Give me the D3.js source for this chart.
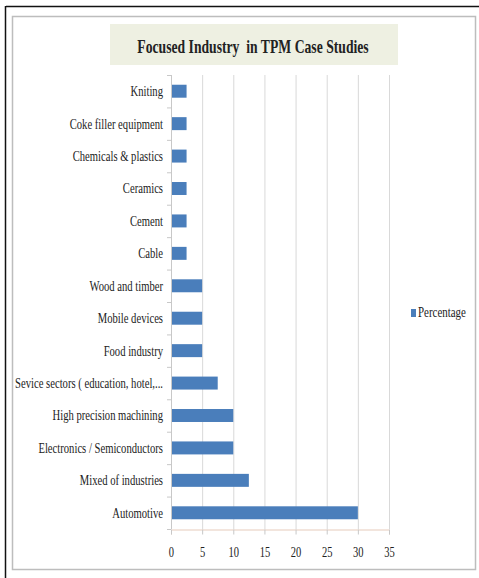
<!DOCTYPE html>
<html>
<head>
<meta charset="utf-8">
<script src="https://cdn.jsdelivr.net/npm/d3@7"></script>
<style>
  body { margin: 0; background: #fff; }
  text { font-family: "Liberation Serif", "Times New Roman", serif; fill: #222; }
</style>
</head>
<body>
<div id="chart"></div>
<script>
// data (top to bottom)
const categories = ["Kniting", "Coke filler equipment", "Chemicals & plastics", "Ceramics", "Cement", "Cable",
  "Wood and timber", "Mobile devices", "Food industry", "Sevice sectors ( education, hotel,...",
  "High precision machining", "Electronics / Semiconductors", "Mixed of industries", "Automotive"];
const values = [2.5, 2.5, 2.5, 2.5, 2.5, 2.5, 5, 5, 5, 7.5, 10, 10, 12.5, 30];
const xTicks = [0, 5, 10, 15, 20, 25, 30, 35];
const seriesName = "Percentage";
const title = "Focused Industry  in TPM Case Studies";

const W = 479, H = 578;
const plot = { left: 171, right: 389, top: 75, bottom: 529 };

const svg = d3.select("#chart").append("svg")
  .attr("width", W)
  .attr("height", H);

// frame: black edge top/left, grey inner border
svg.append("line").attr("x1", 6).attr("x2", W).attr("y1", 6.5).attr("y2", 6.5).attr("stroke", "#111").attr("stroke-width", 1.5);
svg.append("line").attr("x1", 5.5).attr("x2", 5.5).attr("y1", 6).attr("y2", H).attr("stroke", "#111").attr("stroke-width", 1.5);
svg.append("rect")
  .attr("x", 12.5).attr("y", 16.5)
  .attr("width", 463).attr("height", 553)
  .attr("fill", "#fff")
  .attr("stroke", "#bdbdbd")
  .attr("stroke-width", 1.5);

// title box
svg.append("rect")
  .attr("x", 110).attr("y", 24)
  .attr("width", 288).attr("height", 41)
  .attr("fill", "#eef0e2");
svg.append("text")
  .attr("transform", "translate(253,53) scale(0.76,1)")
  .attr("text-anchor", "middle")
  .attr("font-size", 18)
  .attr("font-weight", "bold")
  .style("white-space", "pre")
  .attr("xml:space", "preserve")
  .text(title);

const x = d3.scaleLinear()
  .domain([0, 35])
  .range([plot.left, plot.right]);

const y = d3.scaleBand()
  .domain(categories)
  .range([plot.top, plot.bottom])
  .paddingInner(0.6)
  .paddingOuter(0.3);

// vertical gridlines
svg.append("g")
  .selectAll("line")
  .data(xTicks.filter(d => d > 0))
  .join("line")
  .attr("x1", d => x(d) + 0.5).attr("x2", d => x(d) + 0.5)
  .attr("y1", plot.top).attr("y2", plot.bottom)
  .attr("stroke", "#d9d9d9");

// bars
svg.append("g")
  .selectAll("rect")
  .data(categories)
  .join("rect")
  .attr("x", x(0))
  .attr("y", d => y(d))
  .attr("width", (d, i) => x(values[i]) - x(0))
  .attr("height", y.bandwidth())
  .attr("fill", "#4a7ebb");

// y axis (category boundaries as ticks)
const step = y.step();
const bounds = d3.range(categories.length + 1).map(i => plot.top + i * step);
svg.append("line")
  .attr("x1", plot.left + 0.5).attr("x2", plot.left + 0.5)
  .attr("y1", plot.top).attr("y2", plot.bottom)
  .attr("stroke", "#c8c8c8");
svg.append("g")
  .selectAll("line")
  .data(bounds)
  .join("line")
  .attr("x1", plot.left - 4).attr("x2", plot.left)
  .attr("y1", d => d + 0.5).attr("y2", d => d + 0.5)
  .attr("stroke", "#c8c8c8");

svg.append("g")
  .selectAll("text")
  .data(categories)
  .join("text")
  .attr("transform", d => `translate(163,${y(d) + y.bandwidth() / 2}) scale(0.76,1)`)
  .attr("dy", "0.35em")
  .attr("text-anchor", "end")
  .attr("font-size", 14)
  .text(d => d);

// x axis
const xAxis = svg.append("g")
  .attr("transform", `translate(0,${plot.bottom + 0.5})`)
  .call(d3.axisBottom(x).tickValues(xTicks).tickSize(5).tickFormat(d3.format("d")));
xAxis.select(".domain").attr("stroke", "#e6cbbb");
xAxis.selectAll(".tick line").attr("stroke", "#c8c8c8");
xAxis.selectAll(".tick text")
  .attr("font-family", "Liberation Serif, serif")
  .attr("font-size", 14)
  .attr("fill", "#222")
  .attr("y", 0)
  .attr("dy", 0)
  .attr("transform", "translate(0,27) scale(0.75,1)");

// legend
svg.append("rect")
  .attr("x", 411).attr("y", 309)
  .attr("width", 5).attr("height", 8)
  .attr("fill", "#4a7ebb");
svg.append("text")
  .attr("transform", "translate(418,317) scale(0.78,1)")
  .attr("font-size", 14)
  .text(seriesName);
</script>
</body>
</html>
